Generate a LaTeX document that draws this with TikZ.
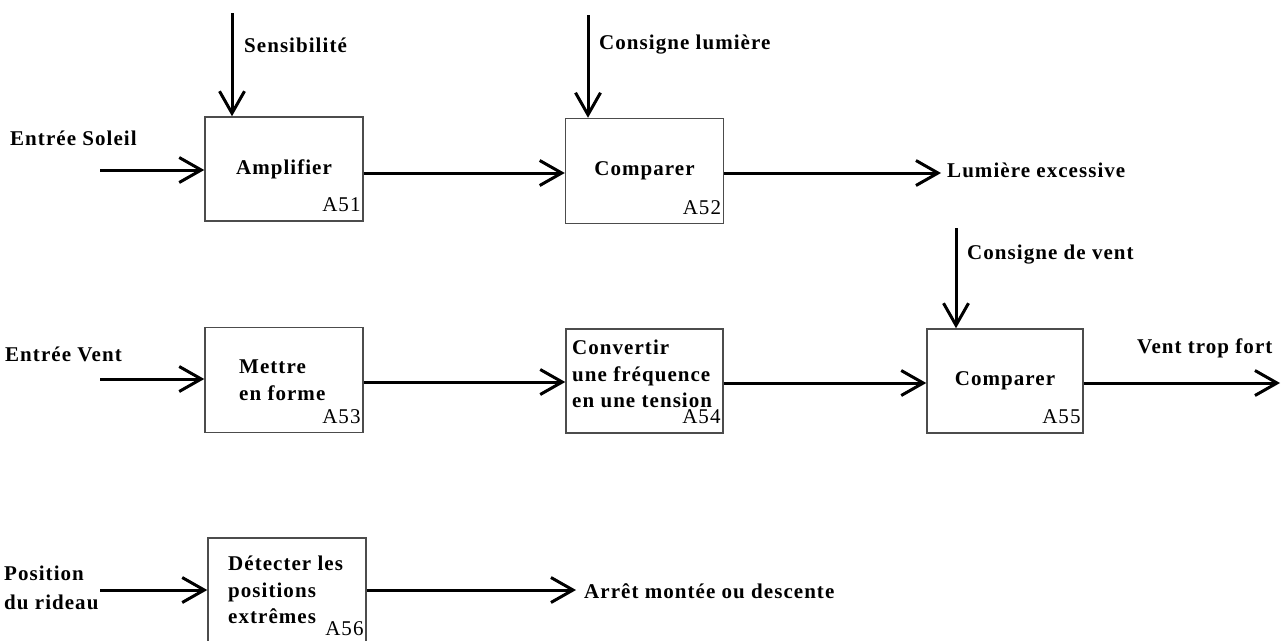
\documentclass[tikz,border=0pt]{standalone}
\usepackage{fontspec}
\setmainfont{Liberation Serif}[LetterSpace=5]
\usetikzlibrary{arrows.meta}
\begin{document}
\begin{tikzpicture}[x=1pt,y=-1pt,
  box/.style={draw=black!70,line width=1.5pt,minimum width=158pt,minimum height=104pt,inner sep=0pt,font=\fontsize{21}{26.5}\selectfont\bfseries},
  lbl/.style={anchor=west,inner sep=0pt,align=left,font=\fontsize{21}{26.5}\selectfont\bfseries},
  ref/.style={anchor=base east,inner sep=0pt,font=\fontsize{21}{24}\selectfont},
  arr/.style={line width=3pt,-{Straight Barb[length=22pt,width=25pt,line width=3pt]}},
  ln/.style={line width=3pt}]
\useasboundingbox (0,0) rectangle (1281,640);
\clip (0,0) rectangle (1281,640);
% boxes
\node[box] (a51) at (284,169) {Amplifier};
\node[box,minimum height=105pt] (a52) at (644.5,171) {Comparer};
\node[box,minimum height=105pt] (a53) at (284,380) {};
\node[box,minimum width=157pt] (a54) at (644.5,381) {};
\node[box,minimum width=156pt] (a55) at (1005,381) {Comparer};
\node[box,minimum height=108pt] (a56) at (287,592) {};
% references
\node[ref] at ([xshift=-3pt,yshift=10pt]a51.south east) {A51};
\node[ref] at ([xshift=-3pt,yshift=10pt]a52.south east) {A52};
\node[ref] at ([xshift=-3pt,yshift=10pt]a53.south east) {A53};
\node[ref] at ([xshift=-3pt,yshift=10pt]a54.south east) {A54};
\node[ref] at ([xshift=-3pt,yshift=10pt]a55.south east) {A55};
\node[ref] at ([xshift=-3pt]a56.east |- 0,635) {A56};
% box texts
\node[lbl] (t53) at (239,380) {Mettre\\en forme};
\node[lbl] (t54) at (572,374) {Convertir\\une fréquence\\en une tension};
\node[lbl] (t56) at (228,590) {Détecter les\\positions\\extrêmes};
% external labels
\node[lbl] (lsens) at (244,45) {Sensibilité};
\node[lbl] (lcl) at (599,45) {Consigne lumière};
\node[lbl] (les) at (10,138) {Entrée Soleil};
\node[lbl] (llum) at (947,170) {Lumière excessive};
\node[lbl] (lcv) at (967,255) {Consigne de vent};
\node[lbl] (lev) at (5,354) {Entrée Vent};
\node[lbl] (lvtf) at (1137,348) {Vent trop fort};
\node[lbl,font=\fontsize{21}{29}\selectfont\bfseries] (lpos) at (4,588) {Position\\du rideau};
\node[lbl] (larr) at (584,591) {Arrêt montée ou descente};
% free ends
\coordinate (sens) at (232,13);
\coordinate (cl) at (588,15);
\coordinate (cv) at (956,228);
\coordinate (ines) at (100,170);
\coordinate (inev) at (100,379);
\coordinate (inpos) at (100,590);
\coordinate (outlum) at (941,173);
\coordinate (outvtf) at (1281,383);
\coordinate (outarr) at (576,590);
% connectors
\draw[arr] (sens) -- (sens |- a51.north);
\draw[arr] (cl) -- (cl |- a52.north);
\draw[arr] (cv) -- (cv |- a55.north);
\draw[arr] (ines) -- (ines -| a51.west);
\draw[arr] (inev) -- (inev -| a53.west);
\draw[arr] (inpos) -- (inpos -| a56.west);
\draw[arr] (a51.east |- 0,173) -- (a52.west |- 0,173);
\draw[arr] (a52.east |- outlum) -- (outlum);
\draw[arr] (a53.east |- 0,382) -- (a54.west |- 0,382);
\draw[arr] (a54.east |- 0,383) -- (a55.west |- 0,383);
\draw[arr] (a55.east |- outvtf) -- ([xshift=-1pt]outvtf);
\draw[arr] (a56.east |- outarr) -- (outarr);
\end{tikzpicture}
\end{document}
